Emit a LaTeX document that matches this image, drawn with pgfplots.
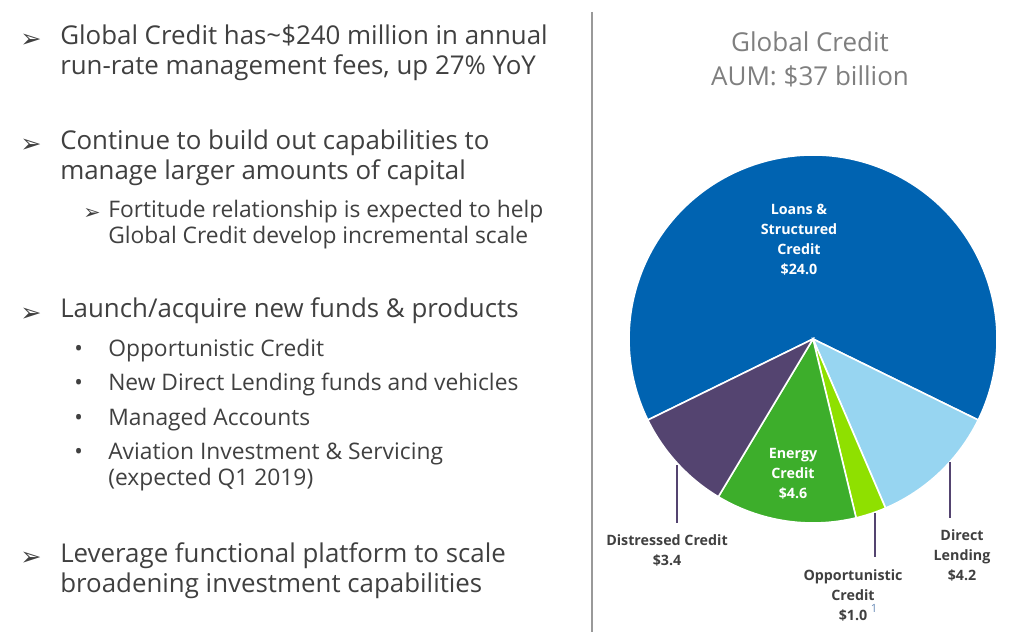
\documentclass[border=0pt]{standalone}
\usepackage{pgfplots}
\pgfplotsset{compat=1.18}
\usepackage{pgfplotstable}
\usepackage{fontspec}
\setmainfont{Open Sans}
\newfontfamily\sym{DejaVu Sans}
\definecolor{txt}{HTML}{404040}
\definecolor{ttl}{HTML}{7F7F7F}
\definecolor{cLoans}{HTML}{0063B1}
\definecolor{cDirect}{HTML}{97D5F1}
\definecolor{cOpp}{HTML}{8FE000}
\definecolor{cEnergy}{HTML}{3DAE2B}
\definecolor{cDist}{HTML}{544470}
\definecolor{sup}{HTML}{6A8CB8}

\pgfplotstableread{
label value
Loans 24.0
Direct 4.2
Opportunistic 1.0
Energy 4.6
Distressed 3.4
}\piedata

\newcommand\mainfs{\fontsize{19.4pt}{22pt}\selectfont}
\newcommand\subfs{\fontsize{17.1pt}{20pt}\selectfont}
\newcommand\lblfs{\fontsize{10.7pt}{15pt}\selectfont\bfseries}
\newcommand\arrfs{\sym\fontsize{19pt}{20pt}\selectfont}

\begin{document}
\begin{tikzpicture}[x=0.75pt,y=-0.75pt]
\useasboundingbox[fill=white] (0,0) rectangle (1027,641);

% values
\pgfplotstablegetelem{0}{value}\of\piedata \let\vL\pgfplotsretval
\pgfplotstablegetelem{1}{value}\of\piedata \let\vD\pgfplotsretval
\pgfplotstablegetelem{2}{value}\of\piedata \let\vO\pgfplotsretval
\pgfplotstablegetelem{3}{value}\of\piedata \let\vE\pgfplotsretval
\pgfplotstablegetelem{4}{value}\of\piedata \let\vS\pgfplotsretval
\pgfmathsetmacro\T{\vL+\vD+\vO+\vE+\vS}
\pgfmathsetmacro\aA{90-\vL/\T*180}
\pgfmathsetmacro\aB{\aA-\vD/\T*360}
\pgfmathsetmacro\aC{\aB-\vO/\T*360}
\pgfmathsetmacro\aD{\aC-\vE/\T*360}
\pgfmathsetmacro\aE{\aD-\vS/\T*360}
\pgfmathsetmacro\aF{\aE+360}

\begin{axis}[at={(609.75pt,-254.25pt)}, anchor=center, hide axis, scale only axis,
  width=300pt, height=300pt, xmin=-200, xmax=200, ymin=-200, ymax=200,
  clip=false]
\fill[cLoans, draw=white, line width=1.2pt] (axis cs:0,0) -- (axis cs:{184*cos(\aA)},{184*sin(\aA)}) arc[start angle=\aA, end angle=\aF, radius=138pt] -- cycle;
\fill[cDirect, draw=white, line width=1.2pt] (axis cs:0,0) -- (axis cs:{184*cos(\aA)},{184*sin(\aA)}) arc[start angle=\aA, end angle=\aB, radius=138pt] -- cycle;
\fill[cOpp, draw=white, line width=1.2pt] (axis cs:0,0) -- (axis cs:{184*cos(\aB)},{184*sin(\aB)}) arc[start angle=\aB, end angle=\aC, radius=138pt] -- cycle;
\fill[cEnergy, draw=white, line width=1.2pt] (axis cs:0,0) -- (axis cs:{184*cos(\aC)},{184*sin(\aC)}) arc[start angle=\aC, end angle=\aD, radius=138pt] -- cycle;
\fill[cDist, draw=white, line width=1.2pt] (axis cs:0,0) -- (axis cs:{184*cos(\aD)},{184*sin(\aD)}) arc[start angle=\aD, end angle=\aE, radius=138pt] -- cycle;
\end{axis}

% separator
\draw[gray!80, line width=1pt] (592,12) -- (592,632);

% title
\node[ttl, font=\fontsize{19.5pt}{22pt}\selectfont, anchor=base] at (810,52) {Global Credit};
\node[ttl, font=\fontsize{19.5pt}{22pt}\selectfont, anchor=base] at (810,86) {AUM: \$37 billion};

% inner labels
\node[white, font=\lblfs, align=center, anchor=center] at (799,240) {Loans \&\\Structured\\Credit\\\$24.0};
\node[white, font=\lblfs, align=center, anchor=center] at (793,474) {Energy\\Credit\\\$4.6};

% leader lines
\draw[cDist, line width=0.9pt] (677,465) -- (677,523);
\draw[cDist, line width=0.9pt] (875,513) -- (875,557);
\draw[cDist, line width=0.9pt] (950,462) -- (950,518);

% outer labels
\node[txt, font=\lblfs, align=center, anchor=center] at (667,550) {Distressed Credit\\\$3.4};
\node[txt, font=\lblfs, align=center, anchor=center] at (853,595) {Opportunistic\\Credit\\\$1.0};
\node[sup, font=\fontsize{8.5pt}{9pt}\selectfont, anchor=center] at (874,608) {1};
\node[txt, font=\lblfs, align=center, anchor=center] at (962,555) {Direct\\Lending\\\$4.2};

% left text
\begin{scope}[every node/.style={txt, anchor=base west, inner sep=0pt}]
\node[font=\arrfs] at (20,48) {➢};
\node[font=\mainfs] at (60,45) {Global Credit has\textasciitilde\$240 million in annual};
\node[font=\mainfs] at (60,75) {run-rate management fees, up 27\% YoY};

\node[font=\arrfs] at (20,153) {➢};
\node[font=\mainfs] at (60,150) {Continue to build out capabilities to};
\node[font=\mainfs] at (60,180) {manage larger amounts of capital};

\node[font=\sym\fontsize{15.5pt}{16pt}\selectfont] at (83,220) {➢};
\node[font=\subfs] at (108,218) {Fortitude relationship is expected to help};
\node[font=\subfs] at (108,244) {Global Credit develop incremental scale};

\node[font=\arrfs] at (20,321) {➢};
\node[font=\mainfs] at (60,318) {Launch/acquire new funds \& products};

\node[font=\subfs] at (74,356) {•};
\node[font=\subfs] at (108,356) {Opportunistic Credit};
\node[font=\subfs] at (74,390) {•};
\node[font=\subfs] at (108,390) {New Direct Lending funds and vehicles};
\node[font=\subfs] at (74,425) {•};
\node[font=\subfs] at (108,425) {Managed Accounts};
\node[font=\subfs] at (74,459) {•};
\node[font=\subfs] at (108,459) {Aviation Investment \& Servicing};
\node[font=\subfs] at (108,485) {(expected Q1 2019)};

\node[font=\arrfs] at (20,565) {➢};
\node[font=\mainfs] at (60,562) {Leverage functional platform to scale};
\node[font=\mainfs] at (60,592) {broadening investment capabilities};
\end{scope}
\end{tikzpicture}
\end{document}
